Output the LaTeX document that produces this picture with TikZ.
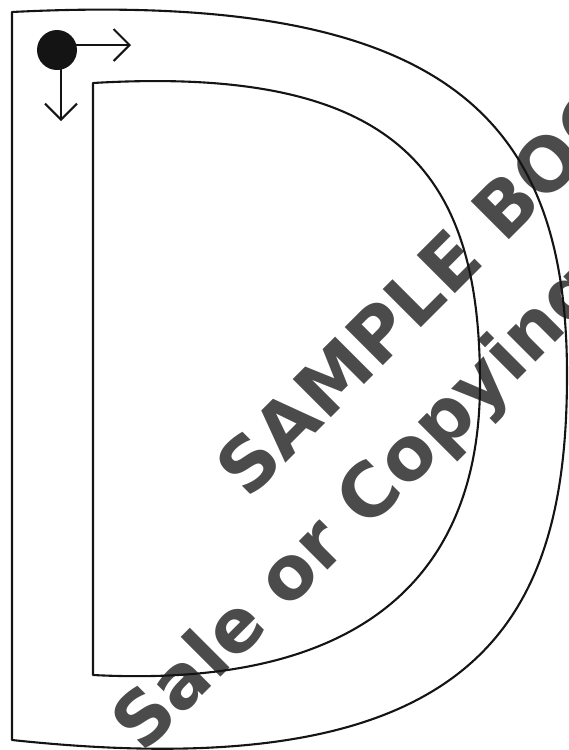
\documentclass[tikz,border=0pt]{standalone}
\usepackage{fontspec}
\newfontfamily\wmfont{DejaVu Sans}
\usetikzlibrary{arrows.meta}
\definecolor{wmgray}{RGB}{75,75,75}
\definecolor{ink}{RGB}{20,20,20}
\begin{document}
\begin{tikzpicture}[x=1pt,y=-1pt,
  outline/.style={draw=ink,line width=2.1pt,line join=round},
  wmtext/.style={text=wmgray,font=\wmfont\bfseries\fontsize{74}{74}\selectfont,rotate=45,anchor=base west,inner sep=0pt},
  axisarrow/.style={draw=ink,line width=2pt,-{Straight Barb[length=16pt,width=32pt]}},
  origindot/.style={circle,fill=ink,minimum size=40pt,inner sep=0pt}]
\useasboundingbox (0,0) rectangle (569,750);
\begin{scope}
\clip (0,0) rectangle (569,750);
\node[wmtext] (wm1) at (248,501) {SAMPLE BOOK};
\node[wmtext] (wm2) at (143,755) {Sale or Copying};
\end{scope}
% outer D
\draw[outline] (12,12) .. controls (450,-10) and (567,120) .. (567,375)
  .. controls (567,620) and (480,790) .. (12,740) -- cycle;
% inner D
\draw[outline] (93,83) .. controls (399,65) and (480,173) .. (480,383)
  .. controls (480,560) and (380,690) .. (93,675) -- cycle;
% origin with axes
\coordinate (xs) at (57,45);
\coordinate (xe) at (131,45);
\coordinate (ys) at (61,50);
\coordinate (ye) at (61,121);
\draw[axisarrow] (xs) -- (xe);
\draw[axisarrow] (ys) -- (ye);
\node[origindot] (origin) at (57,50) {};
\end{tikzpicture}
\end{document}
